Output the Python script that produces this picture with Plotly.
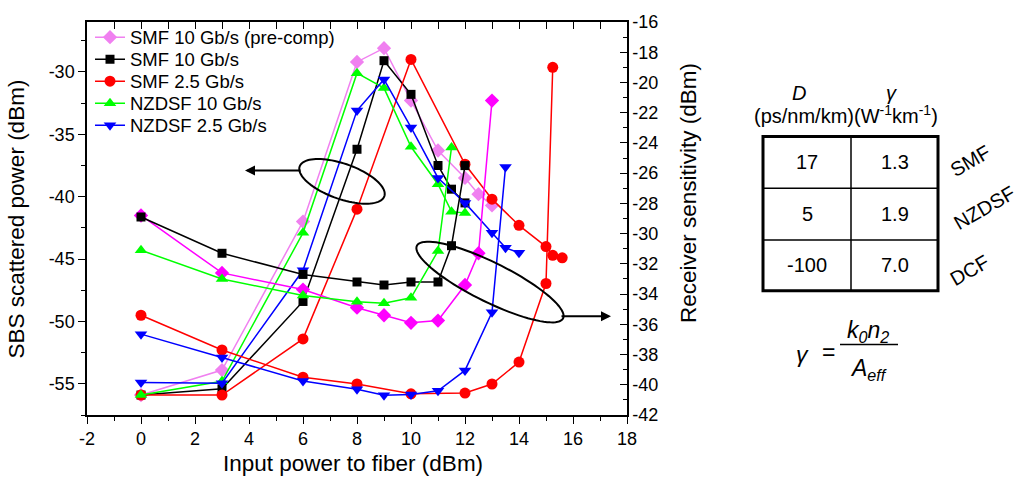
import math
import plotly.graph_objects as go

# ---------------- data ----------------
series_names = ["SMF 10 Gb/s (pre-comp)", "SMF 10 Gb/s", "SMF 2.5 Gb/s",
                "NZDSF 10 Gb/s", "NZDSF 2.5 Gb/s"]

# SBS scattered power (left axis)
x_sbs_smf10pc = [0, 3, 6, 8, 9, 10, 11, 12, 12.5, 13]
sbs_smf10pc = [-55.9, -53.9, -42.0, -29.2, -28.1, -32.3, -36.3, -38.5, -39.8, -40.7]
x_sbs_smf10 = [0, 3, 6, 8, 9, 10, 11, 11.5, 12]
sbs_smf10 = [-55.9, -55.4, -48.4, -36.2, -29.1, -31.8, -37.5, -39.4, -40.5]
x_sbs_smf25 = [0, 3, 6, 8, 10, 12, 13, 14, 15, 15.25, 15.6]
sbs_smf25 = [-55.9, -55.9, -51.4, -41.0, -29.0, -37.4, -40.2, -42.3, -44.0, -44.7, -44.9]
x_sbs_nz10 = [0, 3, 6, 8, 9, 10, 11, 11.5, 12]
sbs_nz10 = [-55.9, -54.8, -42.9, -30.1, -31.3, -36.0, -39.0, -41.2, -41.3]
x_sbs_nz25 = [0, 3, 6, 8, 9, 10, 11, 12, 13, 13.5, 14]
sbs_nz25 = [-54.9, -54.95, -45.9, -33.1, -30.6, -34.45, -38.5, -40.5, -42.9, -44.1, -44.5]

# Receiver sensitivity (right axis)
x_sen_smf10pc = [0, 3, 6, 8, 9, 10, 11, 12, 12.5, 13]
sen_smf10pc = [-28.8, -32.6, -33.7, -34.9, -35.4, -35.9, -35.75, -33.4, -31.3, -21.2]
x_sen_smf10 = [0, 3, 6, 8, 9, 10, 11, 11.5, 12]
sen_smf10 = [-28.9, -31.3, -32.7, -33.2, -33.4, -33.2, -33.2, -30.8, -25.5]
x_sen_smf25 = [0, 3, 6, 8, 10, 12, 13, 14, 15, 15.25]
sen_smf25 = [-35.4, -37.7, -39.5, -39.95, -40.6, -40.55, -39.95, -38.5, -33.3, -19.0]
x_sen_nz10 = [0, 3, 6, 8, 9, 10, 11, 11.5]
sen_nz10 = [-31.1, -33.0, -34.1, -34.5, -34.6, -34.25, -31.15, -24.3]
x_sen_nz25 = [0, 3, 6, 8, 9, 10, 11, 12, 13, 13.5]
sen_nz25 = [-36.65, -38.2, -39.75, -40.3, -40.7, -40.65, -40.4, -39.05, -35.2, -25.6]

# tick labels (hyphen minus as in the original)
x_ticks = [-2, 0, 2, 4, 6, 8, 10, 12, 14, 16, 18]
y_ticks = [-55, -50, -45, -40, -35, -30]
y2_ticks = [-42, -40, -38, -36, -34, -32, -30, -28, -26, -24, -22, -20, -18, -16]

# fibre table
fibers = ["SMF", "NZDSF", "DCF"]
dispersion = ["17", "5", "-100"]
gamma = ["1.3", "1.9", "7.0"]

# ---------------- styling ----------------
FONT = "Arial, Liberation Sans, sans-serif"
W, H = 1019, 481
L, R, T, B = 87, 627, 13, 415


def px(xp):
    return (xp - L) / (R - L)


def py(yp):
    return (B - yp) / (B - T)


sbs_sets = [(x_sbs_smf10pc, sbs_smf10pc), (x_sbs_smf10, sbs_smf10), (x_sbs_smf25, sbs_smf25),
            (x_sbs_nz10, sbs_nz10), (x_sbs_nz25, sbs_nz25)]
sen_sets = [(x_sen_smf10pc, sen_smf10pc), (x_sen_smf10, sen_smf10), (x_sen_smf25, sen_smf25),
            (x_sen_nz10, sen_nz10), (x_sen_nz25, sen_nz25)]
sbs_colors = ["#F080F0", "#000000", "#FF0000", "#00FF00", "#0000FF"]
sen_colors = ["#FF00FF", "#000000", "#FF0000", "#00FF00", "#0000FF"]
symbols = ["diamond", "square", "circle", "triangle-up", "triangle-down"]
sizes = [11, 9, 11, 11, 11]
legend_ids = ["legend", "legend2", "legend3", "legend4", "legend5"]
legend_rows = [29, 51.5, 74, 96.5, 119]

fig = go.Figure()
for i, name in enumerate(series_names):
    xs, ys = sen_sets[i]
    fig.add_trace(go.Scatter(x=xs, y=ys, yaxis="y2", mode="lines+markers", name=name,
                             legendgroup=name, showlegend=False,
                             line=dict(color=sen_colors[i], width=1.5),
                             marker=dict(symbol=symbols[i], size=sizes[i], color=sen_colors[i])))
for i, name in enumerate(series_names):
    xs, ys = sbs_sets[i]
    fig.add_trace(go.Scatter(x=xs, y=ys, yaxis="y", mode="lines+markers", name=name,
                             legendgroup=name, showlegend=True, legend=legend_ids[i],
                             line=dict(color=sbs_colors[i], width=1.5),
                             marker=dict(symbol=symbols[i], size=sizes[i], color=sbs_colors[i])))
# empty trace so the top mirror axis is drawn
fig.add_trace(go.Scatter(x=[], y=[], xaxis="x2", yaxis="y", showlegend=False, hoverinfo="skip"))

axis_common = dict(showline=True, linecolor="black", linewidth=1.5, showgrid=False,
                   zeroline=False, tickcolor="black", tickwidth=1.2,
                   tickfont=dict(family=FONT, size=18, color="black"))

layout = dict(
    width=W, height=H,
    margin=dict(l=L, r=W - R, t=T, b=H - B, pad=0),
    paper_bgcolor="white", plot_bgcolor="white",
    font=dict(family=FONT, color="black"),
    xaxis=dict(range=[-2, 18], tickmode="array", tickvals=x_ticks,
               ticktext=[str(v) for v in x_ticks], ticks="outside", ticklen=7,
               minor=dict(dtick=1, tick0=0, ticks="outside", ticklen=4, tickcolor="black", tickwidth=1.2),
               **axis_common),
    xaxis2=dict(range=[-2, 18], overlaying="x", side="top", dtick=1, tick0=0, ticks="inside", ticklen=7,
                showticklabels=False, showline=True, linecolor="black", linewidth=1.5,
                showgrid=False, zeroline=False, tickcolor="black", tickwidth=1.2),
    yaxis=dict(range=[-57.5, -26], tickmode="array", tickvals=y_ticks,
               ticktext=[str(v) for v in y_ticks], ticks="outside", ticklen=7,
               minor=dict(dtick=2.5, tick0=0, ticks="outside", ticklen=4, tickcolor="black", tickwidth=1.2),
               **axis_common),
    yaxis2=dict(range=[-42, -16], overlaying="y", side="right", tickmode="array", tickvals=y2_ticks,
                ticktext=[str(v) for v in y2_ticks], ticks="inside", ticklen=7,
                minor=dict(dtick=1, tick0=0, ticks="inside", ticklen=4, tickcolor="black", tickwidth=1.2),
                **axis_common),
    showlegend=True,
)
for lid, row in zip(legend_ids, legend_rows):
    layout[lid] = dict(x=px(90), y=py(row), xanchor="left", yanchor="middle",
                       bgcolor="rgba(0,0,0,0)", borderwidth=0,
                       font=dict(family=FONT, size=18.5, color="black"), itemwidth=30)
fig.update_layout(**layout)


def ellipse_path(cx, cy, a, b, deg, n=90):
    th = math.radians(deg)
    pts = []
    for k in range(n + 1):
        t = 2 * math.pi * k / n
        xx = cx + a * math.cos(t) * math.cos(th) - b * math.sin(t) * math.sin(th)
        yy = cy + a * math.cos(t) * math.sin(th) + b * math.sin(t) * math.cos(th)
        pts.append((px(xx), py(yy)))
    return "M" + " L".join(f"{x:.5f},{y:.5f}" for x, y in pts) + " Z"


shapes = [
    dict(type="path", xref="paper", yref="paper", path=ellipse_path(342, 176, 45, 18, 20),
         line=dict(color="black", width=2)),
    dict(type="path", xref="paper", yref="paper", path=ellipse_path(490, 279, 82, 20, 27),
         line=dict(color="black", width=2)),
]
# table
tx0, tx1, txm = 763, 938, 851
ty = [130, 183, 236, 288]
shapes.append(dict(type="rect", xref="paper", yref="paper", x0=px(tx0), x1=px(tx1),
                   y0=py(ty[0]), y1=py(ty[3]), line=dict(color="black", width=3)))
shapes.append(dict(type="line", xref="paper", yref="paper", x0=px(txm), x1=px(txm),
                   y0=py(ty[0]), y1=py(ty[3]), line=dict(color="black", width=1.5)))
for yy in ty[1:3]:
    shapes.append(dict(type="line", xref="paper", yref="paper", x0=px(tx0), x1=px(tx1),
                       y0=py(yy), y1=py(yy), line=dict(color="black", width=1.5)))
# fraction bar
shapes.append(dict(type="line", xref="paper", yref="paper", x0=px(840), x1=px(898),
                   y0=py(343), y1=py(343), line=dict(color="black", width=1.5)))
fig.update_layout(shapes=shapes)


def ann(text, xp, yp, size=18, angle=0, **kw):
    fig.add_annotation(text=text, x=px(xp), y=py(yp), xref="paper", yref="paper",
                       showarrow=False, textangle=angle, xanchor="center", yanchor="middle",
                       font=dict(family=FONT, size=size, color="black"), **kw)


# axis titles
ann("Input power to fiber (dBm)", 353, 465, size=22.5)
ann("SBS scattered power (dBm)", 16, 215, size=22.5, angle=-90)
ann("Receiver sensitivity (dBm)", 688, 188, size=22.5, angle=-90)

# arrows
fig.add_annotation(x=px(245), y=py(165), xref="paper", yref="paper", ax=57, ay=0, text="",
                   showarrow=True, arrowhead=2, arrowsize=1, arrowwidth=2, arrowcolor="black",
                   standoff=0, startstandoff=0)
fig.add_annotation(x=px(611), y=py(314), xref="paper", yref="paper", ax=-51, ay=0, text="",
                   showarrow=True, arrowhead=2, arrowsize=1, arrowwidth=2, arrowcolor="black",
                   standoff=0, startstandoff=0)

# table header
ann("<i>D</i>", 799, 86, size=20)
ann("<i>γ</i>", 891, 86, size=20)
ann("(ps/nm/km)(W<sup>-1</sup>km<sup>-1</sup>)", 846, 108, size=20)
for r in range(3):
    yc = (ty[r] + ty[r + 1]) / 2
    ann(dispersion[r], (tx0 + txm) / 2, yc, size=20)
    ann(gamma[r], (txm + tx1) / 2, yc, size=20)
fiber_pos = [(970, 155), (984, 203), (970, 267)]
for f, (fx, fy) in zip(fibers, fiber_pos):
    ann(f, fx, fy, size=20, angle=-30)

# formula
ann("<i>γ</i>", 802, 353, size=23)
ann("=", 828, 351, size=23)
ann("<i>k<sub>0</sub>n<sub>2</sub></i>", 868, 330, size=23)
ann("<i>A<sub>eff</sub></i>", 868, 368, size=23)

fig.write_html("out.html")
